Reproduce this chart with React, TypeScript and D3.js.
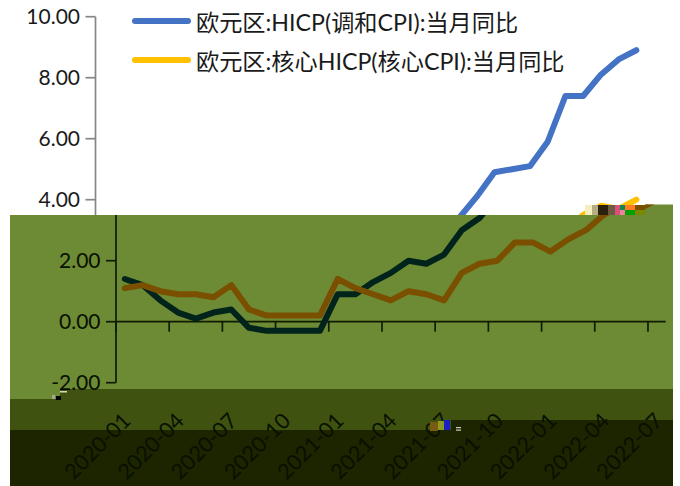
import React from "react";
import * as d3 from "d3";

const months = ["2020-01","2020-02","2020-03","2020-04","2020-05","2020-06","2020-07","2020-08","2020-09","2020-10","2020-11","2020-12","2021-01","2021-02","2021-03","2021-04","2021-05","2021-06","2021-07","2021-08","2021-09","2021-10","2021-11","2021-12","2022-01","2022-02","2022-03","2022-04","2022-05","2022-06","2022-07"];
const hicp = [1.4,1.2,0.7,0.3,0.1,0.3,0.4,-0.2,-0.3,-0.3,-0.3,-0.3,0.9,0.9,1.3,1.6,2.0,1.9,2.2,3.0,3.4,4.1,4.9,5.0,5.1,5.9,7.4,7.4,8.1,8.6,8.9];
const core = [1.1,1.2,1.0,0.9,0.9,0.8,1.2,0.4,0.2,0.2,0.2,0.2,1.4,1.1,0.9,0.7,1.0,0.9,0.7,1.6,1.9,2.0,2.6,2.6,2.3,2.7,3.0,3.5,3.8,3.7,4.0];
const yTicks = [-2,0,2,4,6,8,10];
const xTickLabels = months.filter((_, i) => i % 3 === 0);
const legendNames = ["欧元区:HICP(调和CPI):当月同比","欧元区:核心HICP(核心CPI):当月同比"];

const FONT = "Lato,'Noto Sans CJK SC',sans-serif";
const x = d3.scaleBand<string>().domain(months).range([116, 665.7]);
const y = d3.scaleLinear().domain([-2, 10]).range([382.7, 16.7]);
const line = (vals: number[]) =>
  d3.line<number>().x((_, i) => x(months[i])! + x.bandwidth() / 2).y((d) => y(d))(vals)!;

type Pal = { axis: string; text: string; a: string; b: string };
const lightPal: Pal = { axis: "#868686", text: "#1a1a1a", a: "#4472c4", b: "#ffc000" };
const darkPal: Pal = { axis: "#0f1c00", text: "#081000", a: "#00241c", b: "#7a4f00" };

function Chart({ p, upper }: { p: Pal; upper: boolean }) {
  return (
    <g fontFamily={FONT}>
      <line x1={116} x2={116} y1={y(10)} y2={y(-2)} stroke={p.axis} strokeWidth={1.7} />
      {yTicks.map((t) => (
        <g key={t}>
          <line x1={106} x2={116} y1={y(t)} y2={y(t)} stroke={p.axis} strokeWidth={1.7} />
          {(t >= 4) === upper && (
            <text x={100.5} y={y(t)} dy="0.35em" textAnchor="end" fontSize={21} fill={p.text}>{t.toFixed(2)}</text>
          )}
        </g>
      ))}
      {!upper && <line x1={116} x2={665.7} y1={y(0)} y2={y(0)} stroke={p.axis} strokeWidth={1.7} />}
      {!upper && xTickLabels.map((m) => (
        <g key={m}>
          <line x1={x(m)!} x2={x(m)!} y1={y(0)} y2={y(0) + 10} stroke={p.axis} strokeWidth={1.7} />
          <text transform={`translate(${x(m)! + 4},${410}) rotate(-45)`} textAnchor="end" dy="0.8em" fontSize={21.5} fill={p.text}>{m}</text>
        </g>
      ))}
      <path d={line(hicp)} fill="none" stroke={p.a} strokeWidth={6} strokeLinecap="round" strokeLinejoin="round" />
      <path d={line(core)} fill="none" stroke={p.b} strokeWidth={6} strokeLinecap="round" strokeLinejoin="round" />
    </g>
  );
}

export default function App() {
  return (
    <svg width={680} height={486} style={{ position: "absolute", left: 0, top: 0, background: "#fff" }}>
      <defs>
        <clipPath id="upper"><rect x={0} y={0} width={680} height={215} /></clipPath>
        <clipPath id="lower"><path d="M10 215H645V204.5H673V486H10Z" /></clipPath>
      </defs>
      <g clipPath="url(#upper)" transform="translate(-20.5,0)"><Chart p={lightPal} upper={true} /></g>
      <path d="M10 215H645V204.5H673V486H10Z" fill="#6d8a35" />
      <path d="M10 399H60V389H673V486H10Z" fill="#3f5210" />
      <path d="M10 430H451V420H673V486H10Z" fill="#1c2400" />
      <g clipPath="url(#lower)"><Chart p={darkPal} upper={false} /></g>
      <g>
        <rect x={585} y={205} width={7} height={10} fill="#f5efc0" />
        <rect x={592} y={205} width={6} height={10} fill="#b8ad80" />
        <rect x={598} y={205} width={17} height={10} fill="#2a2010" />
        <rect x={608} y={205} width={7} height={10} fill="#6a5a40" />
        <rect x={615} y={205} width={5} height={10} fill="#d8507a" />
        <rect x={620} y={205} width={5} height={5} fill="#0a8a50" />
        <rect x={620} y={210} width={5} height={5} fill="#f080a0" />
        <rect x={625} y={205} width={10} height={5} fill="#ff7a20" />
        <rect x={625} y={210} width={10} height={5} fill="#00a000" />
        <rect x={635} y={205} width={10} height={5} fill="#7a4f00" />
        <rect x={635} y={210} width={10} height={5} fill="#7a8a00" />
        <rect x={430} y={422} width={8} height={9} fill="#7a5a10" />
        <rect x={438} y={421} width={6} height={9} fill="#8a9a20" />
        <rect x={444} y={420} width={6} height={10} fill="#1a20c0" />
        <rect x={456} y={427} width={5} height={1.2} fill="#d0d0b0" />
        <rect x={456} y={429.5} width={5} height={1.2} fill="#d0d0b0" />
        <rect x={56} y={396} width={5} height={4} fill="#000" />
        <rect x={52} y={395} width={3} height={4} fill="#a0a890" />
        <rect x={60} y={391} width={7} height={1.5} fill="#d8d8c0" />
      </g>
      <g fontFamily={FONT}>
        {legendNames.map((n, i) => (
          <g key={n}>
            <line x1={135} x2={188} y1={21 + i * 39} y2={21 + i * 39} stroke={i ? "#ffc000" : "#4472c4"} strokeWidth={6} strokeLinecap="round" />
            <text x={196} y={23 + i * 38.5} dy="0.35em" fontSize={23.2} fill="#1a1a1a">{n}</text>
          </g>
        ))}
      </g>
    </svg>
  );
}
